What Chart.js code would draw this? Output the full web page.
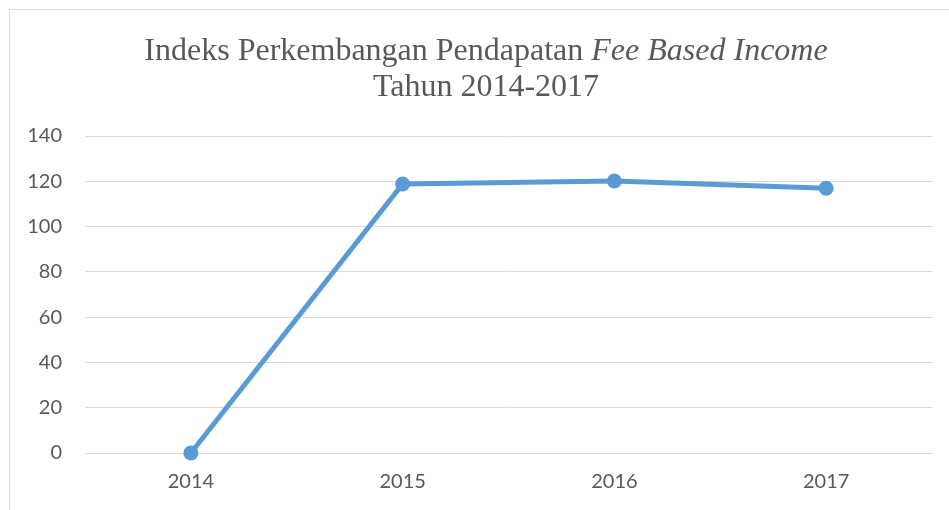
<!DOCTYPE html>
<html>
<head>
<meta charset="utf-8">
<script src="https://cdn.jsdelivr.net/npm/chart.js@4.4.1/dist/chart.umd.min.js"></script>
<style>
  html, body { margin: 0; padding: 0; background: #fff; overflow: hidden; width: 949px; height: 510px; }
  #frame { position: absolute; left: 9px; top: 9px; width: 952px; height: 500px;
           border-left: 1px solid #d9d9d9; border-top: 1px solid #d9d9d9; }
  #title { position: absolute; left: 0; top: 21px; width: 952px; text-align: center;
           font-family: "Liberation Serif", "Times New Roman", serif; font-size: 32px; line-height: 36px;
           color: #595959; z-index: 2; pointer-events: none; }
  canvas { position: absolute; left: 0; top: 0; }
</style>
</head>
<body>
<div id="frame">
  <div id="title">Indeks Perkembangan Pendapatan <i>Fee Based Income</i><br>Tahun 2014-2017</div>
  <canvas id="c" width="952" height="500"></canvas>
</div>
<script>
const categories = ["2014", "2015", "2016", "2017"];
const indexValues = [0, 118.8, 120.1, 116.9];
const yTicks = [0, 20, 40, 60, 80, 100, 120, 140];

const ctx = document.getElementById('c');
new Chart(ctx, {
  type: 'line',
  data: {
    labels: categories,
    datasets: [{
      data: indexValues,
      borderColor: '#5B9BD5',
      backgroundColor: '#5B9BD5',
      borderWidth: 5,
      pointRadius: 7.5,
      pointBorderWidth: 0,
      pointBackgroundColor: '#5B9BD5',
      tension: 0,
      fill: false,
      clip: false
    }]
  },
  options: {
    responsive: false,
    animation: false,
    devicePixelRatio: 1,
    layout: { padding: { top: 126, right: 30, left: 0, bottom: 0 } },
    plugins: { legend: { display: false }, title: { display: false }, tooltip: { enabled: false } },
    scales: {
      x: {
        offset: true,
        grid: { display: false, drawTicks: false },
        border: { display: false },
        ticks: { color: '#595959', font: { family: 'Lato', size: 20 }, padding: 17 },
        afterFit: s => { s.height = 57; }
      },
      y: {
        min: 0, max: 140,
        afterBuildTicks: s => { s.ticks = yTicks.map(v => ({ value: v })); },
        grid: { color: '#d9d9d9', lineWidth: 1, drawTicks: false },
        border: { display: false },
        ticks: { color: '#595959', font: { family: 'Lato', size: 20 }, padding: 23 },
        afterFit: s => { s.width = 75; }
      }
    }
  }
});
</script>
</body>
</html>
